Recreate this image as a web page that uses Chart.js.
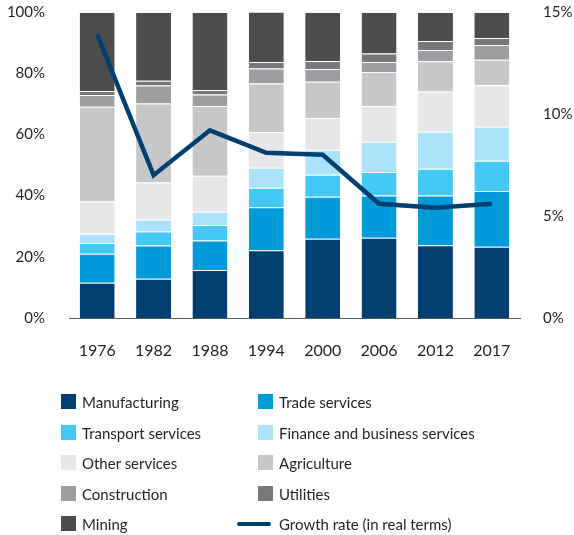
<!DOCTYPE html>
<html>
<head>
<meta charset="utf-8">
<script src="https://cdn.jsdelivr.net/npm/chart.js@4/dist/chart.umd.min.js"></script>
<style>
  html, body { margin: 0; padding: 0; background: #fff; }
  body { width: 574px; height: 535px; position: relative; overflow: hidden; font-family: Lato, "Open Sans", sans-serif; color: #231f20; }
  #wrap { position: absolute; left: 0; top: 0; width: 574px; height: 372px; }
  #legenda { position: absolute; left: 0; top: 0; width: 574px; height: 535px; pointer-events: none; }
  .item { position: absolute; height: 20px; line-height: 20px; font-size: 15px; white-space: nowrap; }
  .cx { position: absolute; left: 0; top: 2px; width: 15px; height: 15px; }
  .ln { position: absolute; left: 0; top: 8px; width: 34px; height: 4px; border-radius: 2px; }
</style>
</head>
<body>
<div id="wrap"><canvas id="grafico"></canvas></div>
<div id="legenda"></div>
<script>
// Anos e participação de cada setor (%)
const anos = ["1976", "1982", "1988", "1994", "2000", "2006", "2012", "2017"];
const manufacturing = [11.5, 12.8, 15.7, 22.1, 25.9, 26.2, 23.8, 23.3];
const trade = [9.5, 10.9, 9.6, 14.1, 13.7, 13.8, 16.2, 18.2];
const transport = [3.5, 4.6, 5.1, 6.4, 7.2, 7.7, 8.8, 9.9];
const finance = [3.0, 3.9, 4.3, 6.5, 8.2, 9.9, 12.1, 11.1];
const otherServices = [10.6, 12.1, 11.8, 11.6, 10.4, 11.6, 13.1, 13.6];
const agriculture = [30.9, 25.8, 22.8, 15.9, 11.8, 11.2, 9.9, 8.3];
const construction = [3.9, 5.9, 3.7, 4.9, 4.2, 3.3, 3.7, 4.8];
const utilities = [1.3, 1.5, 1.5, 2.2, 2.6, 2.7, 2.9, 2.3];
const mining = [25.8, 22.5, 25.5, 16.4, 16.0, 13.6, 9.5, 8.5];
// Taxa de crescimento (eixo da direita)
const crescimento = [13.9, 7.0, 9.2, 8.1, 8.0, 5.6, 5.4, 5.6];
const ticksEsq = [0, 20, 40, 60, 80, 100];
const ticksDir = [0, 5, 10, 15];

const setores = [
  { nome: "Manufacturing", dados: manufacturing, cor: "#003f6f" },
  { nome: "Trade services", dados: trade, cor: "#009ad9" },
  { nome: "Transport services", dados: transport, cor: "#44c8f5" },
  { nome: "Finance and business services", dados: finance, cor: "#abe1fa" },
  { nome: "Other services", dados: otherServices, cor: "#e6e7e8" },
  { nome: "Agriculture", dados: agriculture, cor: "#c6c7c9" },
  { nome: "Construction", dados: construction, cor: "#9d9ea2" },
  { nome: "Utilities", dados: utilities, cor: "#77787b" },
  { nome: "Mining", dados: mining, cor: "#4d4d4f" }
];
const corLinha = "#003f6f";

const fonte = { family: "Lato, 'Open Sans', sans-serif", size: 15 };

const datasets = setores.map(function (s) {
  return {
    type: "bar",
    label: s.nome,
    data: s.dados,
    backgroundColor: s.cor,
    borderColor: "rgba(255,255,255,0.45)",
    borderWidth: { top: 1, left: 0, right: 0, bottom: 0 },
    borderSkipped: "start",
    barPercentage: 0.62,
    categoryPercentage: 1,
    yAxisID: "y",
    order: 2
  };
});

datasets.push({
  type: "line",
  label: "Growth rate (in real terms)",
  data: crescimento,
  borderColor: corLinha,
  borderWidth: 4.5,
  pointRadius: 0,
  tension: 0,
  fill: false,
  yAxisID: "y1",
  order: 0
});

// o padding dos ticks entra no padding vertical do eixo; zera para a área do gráfico começar no topo
function ajustaVertical(eixo, largura) {
  eixo.width = largura;
  eixo.paddingTop = 9;
  eixo.paddingBottom = 9;
}

new Chart(document.getElementById("grafico"), {
  data: { labels: anos, datasets: datasets },
  options: {
    responsive: true,
    maintainAspectRatio: false,
    animation: false,
    layout: { padding: { top: 12, left: 0, right: 0, bottom: 0 } },
    plugins: { legend: { display: false }, tooltip: { enabled: false } },
    scales: {
      x: {
        stacked: true,
        grid: { display: false, drawTicks: false },
        border: { display: true, color: "#58595b", width: 1 },
        ticks: { color: "#231f20", font: { family: fonte.family, size: 16 }, padding: 23 },
        afterFit: function (eixo) { eixo.height = 54; }
      },
      y: {
        stacked: true,
        position: "left",
        min: 0,
        max: 100,
        afterBuildTicks: function (eixo) { eixo.ticks = ticksEsq.map(function (v) { return { value: v }; }); },
        grid: { display: false, drawTicks: false },
        border: { display: false },
        ticks: { color: "#231f20", font: fonte, padding: 24, callback: function (v) { return v + "%"; } },
        afterFit: function (eixo) { ajustaVertical(eixo, 69); }
      },
      y1: {
        position: "right",
        min: 0,
        max: 15,
        afterBuildTicks: function (eixo) { eixo.ticks = ticksDir.map(function (v) { return { value: v }; }); },
        grid: { display: false, drawTicks: false },
        border: { display: false },
        ticks: { color: "#231f20", font: fonte, padding: 23, callback: function (v) { return v + "%"; } },
        afterFit: function (eixo) { ajustaVertical(eixo, 54); }
      }
    }
  }
});

// Legenda em duas colunas
const legenda = document.getElementById("legenda");
const itens = setores.map(function (s) { return { nome: s.nome, cor: s.cor, linha: false }; });
itens.push({ nome: "Growth rate (in real terms)", cor: corLinha, linha: true });
itens.forEach(function (it, i) {
  const col = i % 2;
  const lin = Math.floor(i / 2);
  const div = document.createElement("div");
  div.className = "item";
  const x = col === 0 ? 61 : (it.linha ? 237 : 258);
  div.style.left = x + "px";
  div.style.top = (392 + lin * 30.5) + "px";
  const marca = document.createElement("span");
  marca.className = it.linha ? "ln" : "cx";
  marca.style.background = it.cor;
  const txt = document.createElement("span");
  txt.textContent = it.nome;
  txt.style.position = "absolute";
  txt.style.left = (it.linha ? 279 - 237 : 21) + "px";
  div.appendChild(marca);
  div.appendChild(txt);
  legenda.appendChild(div);
});
</script>
</body>
</html>
